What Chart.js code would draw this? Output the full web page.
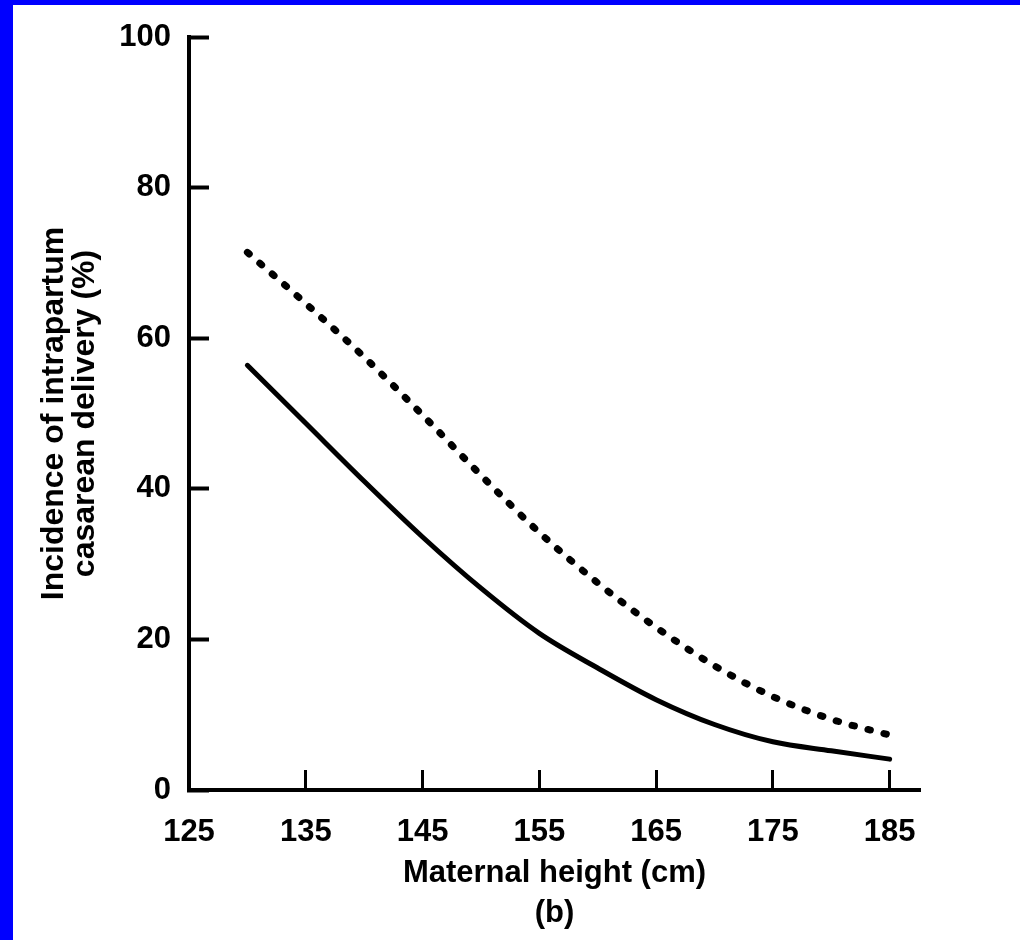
<!DOCTYPE html>
<html>
<head>
<meta charset="utf-8">
<script src="https://cdn.jsdelivr.net/npm/chart.js@4/dist/chart.umd.min.js"></script>
<style>
  html, body { margin: 0; padding: 0; background: #0000ff; width: 1020px; height: 940px; overflow: hidden; }
  #wrap { position: absolute; left: 13px; top: 5px; width: 1007px; height: 935px; background: #ffffff; }
  canvas { display: block; }
</style>
</head>
<body>
<div id="wrap"><canvas id="c" width="1007" height="935"></canvas></div>
<script>
// Data
const heights = [130, 135, 140, 145, 150, 155, 160, 165, 170, 175, 180, 185];
const solidSeries = [56.4, 48.7, 41.0, 33.6, 26.8, 20.8, 16.2, 12.0, 8.7, 6.4, 5.2, 4.1];
const dottedSeries = [71.4, 64.6, 57.5, 49.8, 41.8, 34.2, 27.5, 21.6, 16.5, 12.4, 9.4, 7.3];
const xTickValues = [125, 135, 145, 155, 165, 175, 185];
const yTickValues = [0, 20, 40, 60, 80, 100];
const xTitle = ["Maternal height (cm)", "(b)"];
const yTitle = ["Incidence of intrapartum", "casarean delivery (%)"];

const FONT = '"Liberation Sans", Arial, Helvetica, sans-serif';

const toPoints = (xs, ys) => xs.map((x, i) => ({ x: x, y: ys[i] }));

new Chart(document.getElementById('c'), {
  type: 'line',
  data: {
    datasets: [
      {
        label: 'dotted',
        data: toPoints(heights, dottedSeries),
        borderColor: '#000000',
        borderWidth: 7,
        borderDash: [2.5, 14],
        borderCapStyle: 'round',
        pointRadius: 0,
        cubicInterpolationMode: 'monotone',
        fill: false
      },
      {
        label: 'solid',
        data: toPoints(heights, solidSeries),
        borderColor: '#000000',
        borderWidth: 5,
        borderCapStyle: 'round',
        pointRadius: 0,
        cubicInterpolationMode: 'monotone',
        fill: false
      }
    ]
  },
  options: {
    responsive: false,
    animation: false,
    devicePixelRatio: 1,
    layout: { padding: { left: 0, top: 32, right: 100, bottom: 0 } },
    plugins: { legend: { display: false }, tooltip: { enabled: false }, title: { display: false } },
    scales: {
      x: {
        type: 'linear',
        min: 125,
        max: 187.6,
        afterBuildTicks: (scale) => { scale.ticks = xTickValues.map(v => ({ value: v })); },
        afterFit: (scale) => {
          scale.height = 150;
          scale.paddingLeft = 0; scale.paddingRight = 0;
          scale.paddingTop = 0; scale.paddingBottom = 0;
        },
        grid: {
          drawOnChartArea: false,
          drawTicks: true,
          tickLength: -20,
          tickWidth: 3,
          tickColor: '#000000'
        },
        border: { display: true, color: '#000000', width: 4 },
        ticks: {
          color: '#000000',
          padding: 44,
          maxRotation: 0,
          autoSkip: false,
          font: { family: FONT, size: 31, weight: 'bold' }
        },
        title: {
          display: true,
          text: xTitle,
          color: '#000000',
          padding: { top: 0, bottom: 7 },
          font: { family: FONT, size: 31, weight: 'bold', lineHeight: 40 / 31 }
        }
      },
      y: {
        type: 'linear',
        min: 0,
        max: 100,
        afterBuildTicks: (scale) => { scale.ticks = yTickValues.map(v => ({ value: v })); },
        afterFit: (scale) => {
          scale.width = 176;
          scale.paddingLeft = 0; scale.paddingRight = 0;
          scale.paddingTop = 0; scale.paddingBottom = 0;
        },
        grid: {
          drawOnChartArea: false,
          drawTicks: true,
          tickLength: -20,
          tickWidth: 4,
          tickColor: '#000000'
        },
        border: { display: true, color: '#000000', width: 4 },
        ticks: {
          color: '#000000',
          padding: 38,
          autoSkip: false,
          font: { family: FONT, size: 31, weight: 'bold' }
        },
        title: {
          display: true,
          text: yTitle,
          color: '#000000',
          padding: { top: 26, bottom: 0 },
          font: { family: FONT, size: 32, weight: 'bold', lineHeight: 31 / 32 }
        }
      }
    }
  }
});
</script>
</body>
</html>
